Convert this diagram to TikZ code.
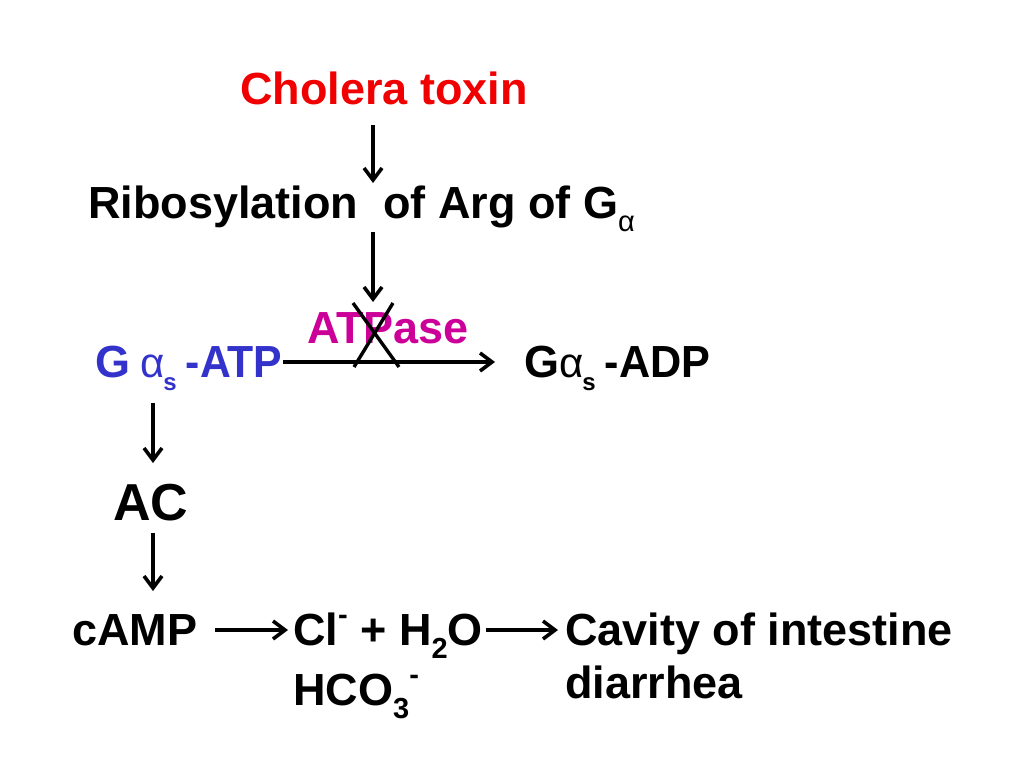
\documentclass[tikz,border=0pt]{standalone}
\usepackage{fontspec}
\setmainfont{Liberation Sans}
\usetikzlibrary{arrows.meta}
\definecolor{toxred}{RGB}{240,0,0}
\definecolor{atpblue}{RGB}{51,51,204}
\definecolor{atpmag}{RGB}{204,0,153}
\newcommand{\mysub}[1]{\raisebox{-0.3em}{\fontsize{29}{30}\selectfont #1}}
\newcommand{\mysup}[1]{\raisebox{0.45em}{\fontsize{29}{30}\selectfont #1}}
\newcommand{\alp}{{\mdseries α}}
\newcommand{\alps}{{\mdseries\fontsize{42}{44}\selectfont α}\hspace{-1pt}\raisebox{-0.3em}{\fontsize{24}{26}\selectfont s}\hspace{9pt}}
\begin{document}
\begin{tikzpicture}[x=1pt,y=-1pt,
  txt/.style={inner sep=0pt,anchor=base west,font=\fontsize{45}{48}\selectfont\bfseries},
  arr/.style={line width=3.6pt,-{Straight Barb[length=12pt,width=18pt,line width=3.6pt]}},
  crossline/.style={line width=3.4pt}]
\useasboundingbox (0,0) rectangle (1024,768);
\node[txt,text=toxred] (tox) at (240,104) {Cholera toxin};
\node[txt] (rib) at (88,218) {Ribosylation\ \ of Arg of G\mysub{\alp}};
\node[txt,text=atpmag] (atpase) at (307,343) {ATPase};
\node[txt,text=atpblue] (gatp) at (95,377) {G\hspace{10pt}\alps\scalebox{0.95}[1]{-ATP}};
\node[txt] (gadp) at (524,377) {G\alps\scalebox{0.96}[1]{-ADP}};
\node[txt,font=\fontsize{52}{56}\selectfont\bfseries] (ac) at (113,520) {AC};
\node[txt] (camp) at (72,645) {cAMP};
\node[txt] (cl) at (293,645) {Cl\mysup{-} + H\mysub{2}O};
\node[txt] (hco) at (293,705) {HCO\mysub{3}\mysup{-}};
\node[txt] (cav) at (565,645) {Cavity of intestine};
\node[txt] (dia) at (565,698) {diarrhea};
% connectors
\coordinate (a1s) at (373,125); \coordinate (a1e) at (373,183);
\draw[arr] (a1s) -- (a1e);
\coordinate (a2s) at (373,232); \coordinate (a2e) at (373,302);
\draw[arr] (a2s) -- (a2e);
\coordinate (h1e) at (495,362);
\draw[arr] (gatp.east |- h1e) -- (h1e);
\coordinate (x1a) at (353,303); \coordinate (x1b) at (399,367);
\coordinate (x2a) at (393,303); \coordinate (x2b) at (354,367);
\draw[crossline] (x1a) -- (x1b);
\draw[crossline] (x2a) -- (x2b);
\coordinate (v1s) at (153,403); \coordinate (v1e) at (153,463);
\draw[arr] (v1s) -- (v1e);
\coordinate (v2s) at (153,533); \coordinate (v2e) at (153,591);
\draw[arr] (v2s) -- (v2e);
\coordinate (h2s) at (215,630); \coordinate (h2e) at (288,630);
\draw[arr] (h2s) -- (h2e);
\coordinate (h3s) at (486,630); \coordinate (h3e) at (558,630);
\draw[arr] (h3s) -- (h3e);
\end{tikzpicture}
\end{document}
